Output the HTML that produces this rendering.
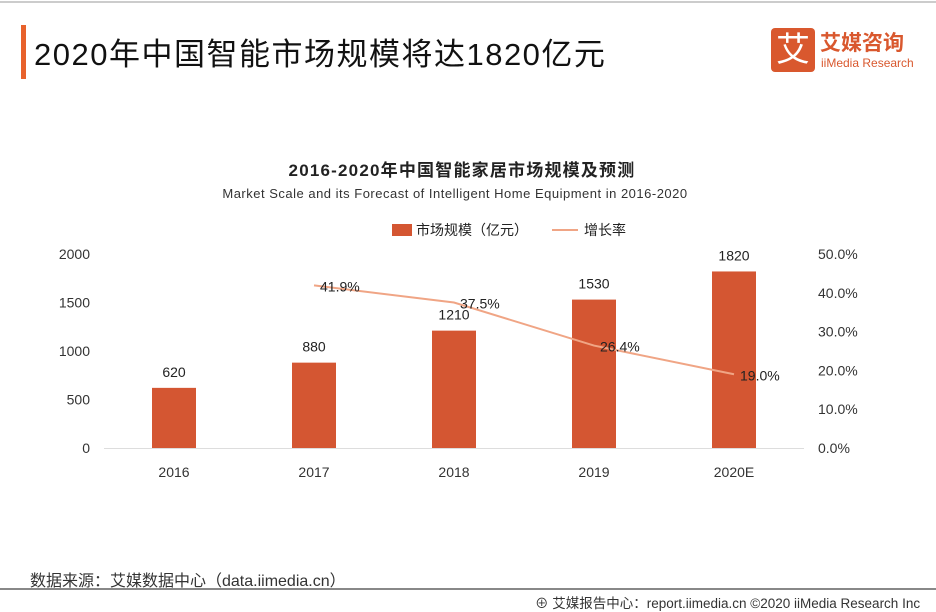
<!DOCTYPE html>
<html><head><meta charset="utf-8"><style>
body{margin:0;width:936px;height:612px;background:#fff;font-family:"Liberation Sans","Noto Sans CJK SC",sans-serif;position:relative;overflow:hidden}
.a{position:absolute;white-space:nowrap}
</style></head><body>
<div class="a" style="left:0;top:1px;width:936px;height:2px;background:#ccc"></div>
<div class="a" style="left:21px;top:25px;width:5px;height:54px;background:#e8622c"></div>
<div class="a" style="left:34px;top:29px;font-size:31px;letter-spacing:1.5px;color:#111">2020年中国智能市场规模将达1820亿元</div>
<div class="a" style="left:771px;top:28px;width:44px;height:44px;background:#d9582e;border-radius:4px;color:#fff;font-size:34px;line-height:44px;text-align:center">艾</div>
<div class="a" style="left:820px;top:27px;font-size:21px;color:#d9582e;font-weight:bold">艾媒咨询</div>
<div class="a" style="left:821px;top:56px;font-size:12px;color:#d9582e">iiMedia Research</div>
<div class="a" style="left:0;width:924px;text-align:center;top:156px;font-size:17px;letter-spacing:1.2px;font-weight:bold;color:#222">2016-2020年中国智能家居市场规模及预测</div>
<div class="a" style="left:0;width:910px;text-align:center;top:186px;font-size:13px;letter-spacing:0.5px;color:#333">Market Scale and its Forecast of Intelligent Home Equipment in 2016-2020</div>
<svg class="a" style="left:0;top:0" width="936" height="612" id="ch"></svg>
<div class="a" style="left:30px;top:567px;font-size:16px;color:#333">数据来源：艾媒数据中心（data.iimedia.cn）</div>
<div class="a" style="left:0;top:588px;width:936px;height:2px;background:#888"></div>
<div class="a" style="left:535px;top:592px;font-size:13.5px;color:#333">⊕ 艾媒报告中心：report.iimedia.cn  ©2020  iiMedia Research Inc</div>
<script>
const categories=["2016","2017","2018","2019","2020E"];
const marketValues=[620,880,1210,1530,1820];
const growthYears=["2017","2018","2019","2020E"];
const growthRates=[41.9,37.5,26.4,19.0];
const leftTicks=[0,500,1000,1500,2000];
const rightTicks=[0,10,20,30,40,50];
const svg=document.getElementById('ch');const NS='http://www.w3.org/2000/svg';
const y0=448,h=194;
const yL=v=>y0-v/2000*h, yR=v=>y0-v/50*h;
const xC=c=>174+categories.indexOf(c)*140;
function mk(t,a,txt){const e=document.createElementNS(NS,t);for(const k in a)e.setAttribute(k,a[k]);if(txt!=null)e.textContent=txt;svg.appendChild(e);return e;}
leftTicks.forEach(v=>{const e=mk('text',{x:90,y:yL(v)+5,'text-anchor':'end','font-size':14,fill:'#333'},v);

});
rightTicks.forEach(v=>{const e=mk('text',{x:818,y:yR(v)+5,'font-size':14,fill:'#333'},v.toFixed(1)+'%');

});
const ax=mk('line',{x1:104,x2:804,y1:y0+.5,y2:y0+.5,stroke:'#ddd'});


categories.forEach((c,i)=>{const x=xC(c),v=marketValues[i];
const b=mk('rect',{x:x-22,y:yL(v),width:44,height:y0-yL(v),fill:'#d45632'});


const l=mk('text',{x:x,y:yL(v)-11,'text-anchor':'middle','font-size':14,fill:'#222'},v);


const t=mk('text',{x:x,y:477,'text-anchor':'middle','font-size':14,fill:'#333'},c);

});
const pts=growthYears.map((c,i)=>[xC(c),yR(growthRates[i])]);
const pl=mk('polyline',{points:pts.map(p=>p.join(',')).join(' '),fill:'none',stroke:'#f0a585','stroke-width':2});


pts.forEach((p,i)=>{const t=mk('text',{x:p[0]+6,y:p[1]+6,'font-size':14,fill:'#222'},growthRates[i].toFixed(1)+'%');

});
const lg=mk('rect',{x:392,y:224,width:20,height:12,fill:'#d45632'});


const lt=mk('text',{x:416,y:235,'font-size':14,fill:'#222'},'市场规模（亿元）');


const ll=mk('line',{x1:552,x2:578,y1:230,y2:230,stroke:'#f0a585','stroke-width':2});


const lt2=mk('text',{x:584,y:235,'font-size':14,fill:'#222'},'增长率');


</script>
</body></html>
